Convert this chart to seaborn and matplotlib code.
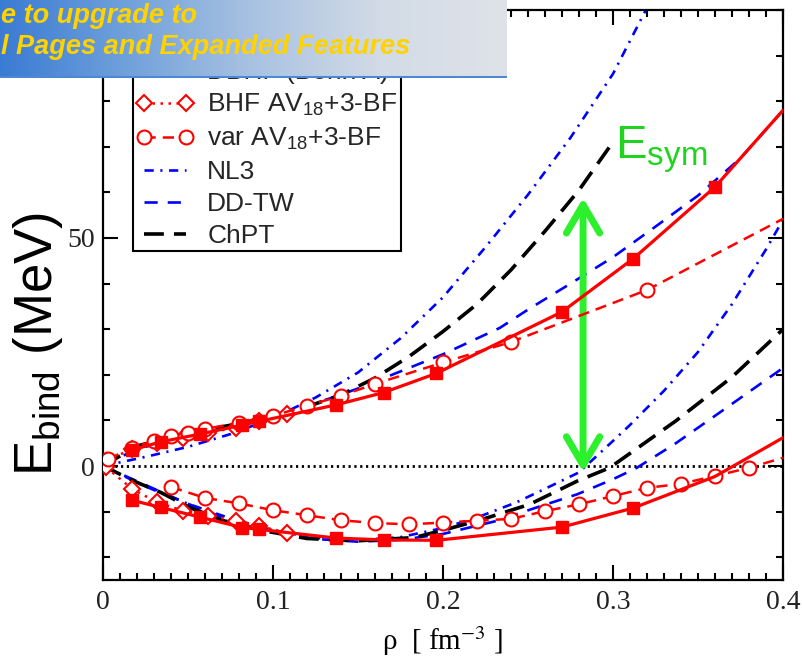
import numpy as np
import matplotlib
matplotlib.use("Agg")
import matplotlib.pyplot as plt
import seaborn as sns
from matplotlib.lines import Line2D
from matplotlib.ticker import MultipleLocator, FixedLocator, FuncFormatter
from matplotlib.colors import LinearSegmentedColormap

# Energy per nucleon E/A (MeV) vs. density rho (fm^-3)
# pnm = pure neutron matter (upper branch), snm = symmetric nuclear matter (lower branch)

# DBHF (Bonn A)
dbhf_pnm_rho = [0.017, 0.034, 0.057, 0.082, 0.092, 0.137, 0.165, 0.196, 0.27, 0.312, 0.36, 0.40]
dbhf_pnm_e = [3.5, 5.3, 7.0, 9.0, 9.8, 13.4, 16.1, 20.3, 33.8, 45.5, 61.2, 78.0]
dbhf_snm_rho = [0.017, 0.034, 0.057, 0.082, 0.092, 0.137, 0.165, 0.196, 0.27, 0.312, 0.36, 0.40]
dbhf_snm_e = [-7.5, -9.1, -11.2, -13.5, -13.9, -15.8, -16.2, -16.3, -13.4, -9.2, -2.3, 6.2]

# BHF AV18 + 3-body forces
bhf_pnm_rho = [0.002, 0.017, 0.032, 0.047, 0.062, 0.078, 0.092, 0.108]
bhf_pnm_e = [1.2, 3.7, 5.1, 6.2, 7.3, 8.4, 9.9, 11.4]
bhf_snm_rho = [0.002, 0.017, 0.032, 0.047, 0.062, 0.078, 0.092, 0.108]
bhf_snm_e = [-0.3, -5.0, -8.0, -9.8, -10.9, -12.0, -13.2, -14.6]

# variational AV18 + 3-body forces
var_pnm_rho = [0.003, 0.017, 0.03, 0.04, 0.05, 0.06, 0.08, 0.10, 0.12, 0.14, 0.16, 0.20, 0.24, 0.32, 0.40]
var_pnm_e = [1.5, 4.0, 5.5, 6.6, 7.3, 8.1, 9.5, 11.0, 13.2, 15.4, 18.0, 22.7, 27.2, 38.6, 54.2]
var_snm_rho = [0.04, 0.06, 0.08, 0.10, 0.12, 0.14, 0.16, 0.18, 0.20, 0.22, 0.24, 0.26, 0.28,
               0.30, 0.32, 0.34, 0.36, 0.38, 0.40]
var_snm_e = [-4.6, -7.0, -8.2, -9.7, -10.8, -11.9, -12.5, -12.8, -12.4, -12.0, -11.6, -9.9, -8.4,
             -6.6, -4.8, -3.9, -2.2, -0.4, 1.8]

# NL3
nl3_pnm_rho = [0, 0.025, 0.05, 0.075, 0.10, 0.125, 0.15, 0.175, 0.20, 0.225, 0.25, 0.275, 0.30, 0.32]
nl3_pnm_e = [0, 2.0, 4.2, 7.0, 10.5, 15.0, 20.5, 28.0, 37.0, 48.0, 59.5, 72.0, 86.0, 100.5]
nl3_snm_rho = [0, 0.025, 0.05, 0.075, 0.10, 0.125, 0.15, 0.175, 0.20, 0.22, 0.243, 0.26, 0.28,
               0.30, 0.31, 0.33, 0.35, 0.37, 0.39, 0.40]
nl3_snm_e = [0, -4.5, -8.3, -11.5, -14.1, -15.8, -16.3, -15.6, -13.6, -11.3, -8.0, -5.0, -1.4,
             5.5, 9.0, 16.5, 25.0, 35.5, 47.5, 54.0]

# DD-TW
ddtw_pnm_rho = [0, 0.02, 0.05, 0.10, 0.135, 0.15, 0.20, 0.2335, 0.25, 0.275, 0.30, 0.325, 0.35, 0.375, 0.40]
ddtw_pnm_e = [0, 3.8, 6.3, 11.0, 15.0, 17.0, 24.5, 30.3, 34.3, 40.0, 45.8, 52.5, 59.3, 67.5, 78.0]
ddtw_snm_rho = [0, 0.03, 0.05, 0.07, 0.10, 0.125, 0.15, 0.175, 0.20, 0.232, 0.255, 0.279, 0.30,
                0.314, 0.337, 0.36, 0.40]
ddtw_snm_e = [0, -5.0, -8.3, -11.2, -14.2, -16.0, -16.6, -16.2, -14.9, -12.0, -9.1, -6.2, -2.9,
              -0.4, 5.0, 11.0, 21.5]

# ChPT
chpt_pnm_rho = [0, 0.02, 0.05, 0.08, 0.10, 0.12, 0.14, 0.16, 0.18, 0.20, 0.22, 0.24, 0.26, 0.28, 0.298]
chpt_pnm_e = [0, 4.4, 7.2, 9.3, 11.0, 13.0, 15.6, 19.3, 24.0, 29.5, 35.5, 43.0, 51.5, 60.5, 70.0]
chpt_snm_rho = [0, 0.02, 0.034, 0.051, 0.071, 0.096, 0.12, 0.15, 0.183, 0.202, 0.224, 0.251,
                0.279, 0.298, 0.337, 0.37, 0.40]
chpt_snm_e = [0, -3.6, -5.8, -9.1, -12.0, -14.3, -15.9, -16.4, -15.7, -13.9, -11.6, -8.4,
              -3.3, -0.4, 9.9, 19.5, 30.0]

legend_labels = ["DBHF (Bonn A)", r"BHF AV$_{18}$+3-BF", r"var AV$_{18}$+3-BF", "NL3", "DD-TW", "ChPT"]
x_ticks = [0, 0.1, 0.2, 0.3, 0.4]
y_ticks = [0, 50]

sns.set_theme(style="ticks")
plt.rcParams.update({
    "font.family": ["Liberation Sans", "DejaVu Sans"],
    "mathtext.fontset": "custom",
    "mathtext.rm": "Liberation Sans",
    "mathtext.it": "Liberation Sans:italic",
    "mathtext.bf": "Liberation Sans:bold",
    "axes.linewidth": 1.6,
    "axes.edgecolor": "black",
})

RED, BLUE, BLACK = "#ff0000", "#0000ff", "#000000"
GREEN_ARROW, GREEN_TEXT = "#2cf02c", "#1fd41f"

styles = {
    "dbhf": dict(color=RED, lw=2.3, linestyle="-", marker="s", ms=8.5,
                 markerfacecolor=RED, mec=RED, mew=1.0),
    "bhf": dict(color=RED, lw=1.8, linestyle=(0, (1, 2.2)), marker="D", ms=8.5,
                markerfacecolor="white", mec=RED, mew=1.5),
    "var": dict(color=RED, lw=1.8, linestyle=(0, (4.5, 2.8)), marker="o", ms=10,
                markerfacecolor="white", mec=RED, mew=1.5),
    "nl3": dict(color=BLUE, lw=1.9, linestyle=(0, (3.5, 2.5, 0.8, 2.5))),
    "ddtw": dict(color=BLUE, lw=1.9, linestyle=(0, (5, 3.8))),
    "chpt": dict(color=BLACK, lw=2.6, linestyle=(0, (5.5, 2.8))),
}

fig = plt.figure(figsize=(8.03, 6.68), dpi=100)
ax = fig.add_axes([103 / 803, 1 - 580 / 668, 680 / 803, 570 / 668])

ax.axhline(0, color="black", lw=2.0, linestyle=(0, (0.8, 1.3)), zorder=1)


def curve(x, y, key, zorder, markevery=None):
    kw = dict(styles[key])
    if markevery is not None:
        kw["markevery"] = markevery
    sns.lineplot(x=x, y=y, ax=ax, estimator=None, sort=False, zorder=zorder, **kw)


curve(nl3_pnm_rho, nl3_pnm_e, "nl3", 2)
curve(nl3_snm_rho, nl3_snm_e, "nl3", 2)
curve(ddtw_pnm_rho, ddtw_pnm_e, "ddtw", 2)
curve(ddtw_snm_rho, ddtw_snm_e, "ddtw", 2)
curve(chpt_pnm_rho, chpt_pnm_e, "chpt", 3)
curve(chpt_snm_rho, chpt_snm_e, "chpt", 3)
curve(bhf_pnm_rho, bhf_pnm_e, "bhf", 4)
curve(bhf_snm_rho, bhf_snm_e, "bhf", 4)
curve(var_pnm_rho, var_pnm_e, "var", 4, markevery=list(range(len(var_pnm_rho) - 1)))
curve(var_snm_rho, var_snm_e, "var", 4, markevery=list(range(len(var_snm_rho) - 1)))
curve(dbhf_pnm_rho, dbhf_pnm_e, "dbhf", 5, markevery=list(range(len(dbhf_pnm_rho) - 1)))
curve(dbhf_snm_rho, dbhf_snm_e, "dbhf", 5, markevery=list(range(len(dbhf_snm_rho) - 2)))

ax.set_xlim(0, 0.4)
ax.set_ylim(-25, 100)
ax.xaxis.set_major_locator(FixedLocator(x_ticks))
ax.xaxis.set_minor_locator(MultipleLocator(0.01))
ax.yaxis.set_major_locator(FixedLocator(y_ticks))
ax.yaxis.set_minor_locator(MultipleLocator(10))
ax.xaxis.set_major_formatter(FuncFormatter(lambda v, p: f"{v:g}"))
ax.yaxis.set_major_formatter(FuncFormatter(lambda v, p: f"{v:g}"))
ax.tick_params(which="both", direction="in", top=True, right=True, width=1.5, color="black")
ax.tick_params(which="major", length=10.5)
ax.tick_params(which="minor", length=5)
ax.tick_params(axis="x", which="major", pad=7)
ax.tick_params(axis="y", which="major", pad=6)
for lab in ax.get_xticklabels() + ax.get_yticklabels():
    lab.set_fontfamily("Liberation Serif")
    lab.set_fontsize(20)
    lab.set_color("#222222")
ax.set_xlabel("")
ax.set_ylabel("")

# symmetry-energy arrow between the two branches
ax.annotate("", xy=(0.2824, -1.3), xytext=(0.2824, 58.8),
            arrowprops=dict(arrowstyle="<->,head_length=1.7,head_width=1.0",
                            color=GREEN_ARROW, lw=5, shrinkA=0, shrinkB=0))
ax.text(0.301, 67.5, r"E$_{\rm sym}$", color=GREEN_TEXT, fontsize=34, ha="left", va="baseline", zorder=6)

handles = [
    Line2D([], [], color=RED, lw=2.3, marker="s", ms=8.5, mfc=RED, mec=RED),
    Line2D([], [], color=RED, lw=1.8, linestyle=(0, (1, 2.2)), marker="D", ms=8.5, mfc="white", mec=RED, mew=1.5),
    Line2D([], [], color=RED, lw=1.8, linestyle=(0, (4.5, 2.8)), marker="o", ms=10, mfc="white", mec=RED, mew=1.5),
    Line2D([], [], color=BLUE, lw=1.9, linestyle=(0, (3.5, 2.5, 0.8, 2.5))),
    Line2D([], [], color=BLUE, lw=1.9, linestyle=(0, (5, 3.8))),
    Line2D([], [], color=BLACK, lw=2.6, linestyle=(0, (5.5, 2.8))),
]
leg = ax.legend(handles, legend_labels, loc="lower left", bbox_to_anchor=(0.044, 0.577),
                borderaxespad=0, numpoints=2, handlelength=2.2, handletextpad=0.5,
                labelspacing=0.30, borderpad=0.12, fontsize=19, fancybox=False,
                framealpha=1, edgecolor="black")
leg.get_frame().set_linewidth(1.5)
leg.set_zorder(7)

# axis titles
fig.text(38 / 803, 1 - 344 / 668, r"E$_{\rm bind}$ (MeV)", rotation=90, fontsize=38,
         ha="center", va="center", color="black")
fig.text(443 / 803, 1 - 641 / 668, r"ρ  [ fm$^{-3}$ ]", fontsize=21, family="Liberation Serif",
         math_fontfamily="stix", ha="center", va="center", color="black")

# banner strip across the top-left corner
bax = fig.add_axes([0, 1 - 78 / 668, 507 / 803, 78 / 668], zorder=10)
grad = np.linspace(0, 1, 256)[None, :]
cmap = LinearSegmentedColormap.from_list("strip", ["#3a7bd4", "#70a1db", "#a9c2e2", "#d2dbe6", "#dfe3e9"])
bax.imshow(grad, aspect="auto", cmap=cmap, extent=[0, 1, 0, 1])
bax.axhline(0.015, color="#4f88d2", lw=2.2)
bax.set_xlim(0, 1)
bax.set_ylim(0, 1)
bax.axis("off")
bax.text(0.002, 0.70, "e to upgrade to", color="#ffd200", fontsize=19.5, fontweight="bold",
         style="italic", ha="left", va="baseline")
bax.text(0.002, 0.31, "l Pages and Expanded Features", color="#ffd200", fontsize=19.5,
         fontweight="bold", style="italic", ha="left", va="baseline")

fig.savefig("out.png", dpi=100)
